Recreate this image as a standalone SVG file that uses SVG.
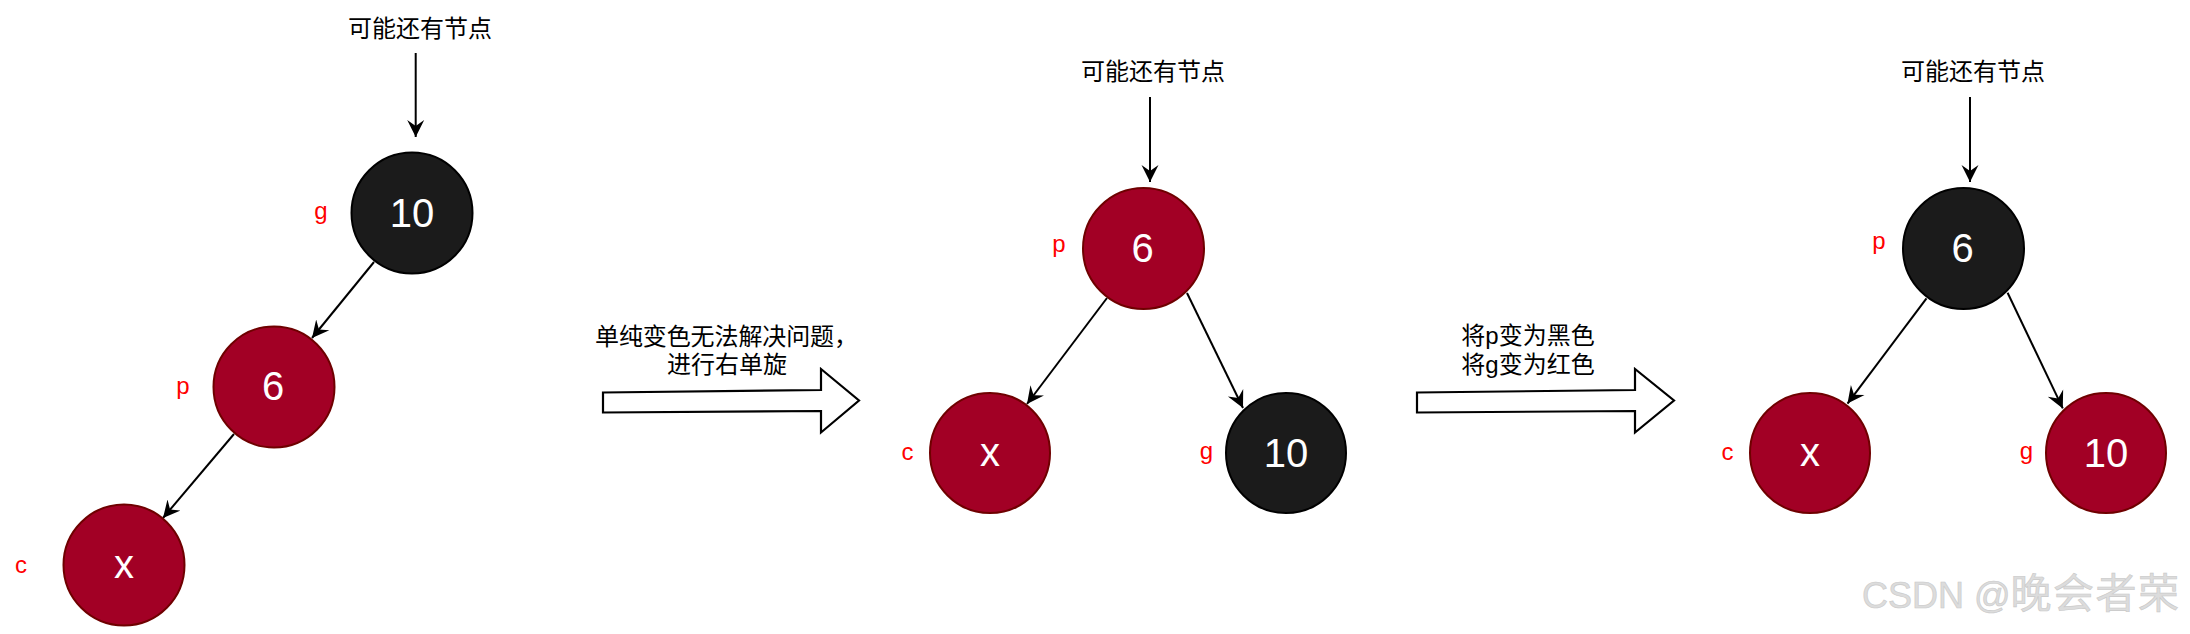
<svg xmlns="http://www.w3.org/2000/svg" width="2190" height="634" viewBox="0 0 2190 634">
<style>
  .red { fill: #A20025; stroke: #6F0000; stroke-width: 2; }
  .blk { fill: #1B1B1B; stroke: #000000; stroke-width: 2; }
  .val { font-family: "Liberation Sans", Arial, sans-serif; font-size: 40px; fill: #FFFFFF; text-anchor: middle; }
  .lbl { font-family: "Liberation Sans", Arial, sans-serif; font-size: 24px; fill: #FF0000; text-anchor: middle; }
  .cap { font-family: "Liberation Sans", "Noto Sans CJK SC", sans-serif; font-size: 24px; fill: #000000; }
  .mid { text-anchor: middle; }
  .edge { stroke: #000000; stroke-width: 2; fill: none; marker-end: url(#arr); }
  .block { fill: #FFFFFF; stroke: #000000; stroke-width: 2.2; stroke-linejoin: miter; }
  .wm { font-family: "Liberation Sans", "Noto Sans CJK SC", sans-serif; fill: #DCDCDC; stroke: #C9C9C9; stroke-width: 0.6; }
</style>
<defs>
  <marker id="arr" markerUnits="userSpaceOnUse" markerWidth="20" markerHeight="20" refX="17" refY="9" orient="auto">
    <path d="M17,9 L0,0.5 L6,9 L0,17.5 Z" fill="#000000"/>
  </marker>
</defs>
<rect width="2190" height="634" fill="#FFFFFF"/>

<g id="connectors">
  <line class="edge" x1="415.7" y1="53" x2="415.7" y2="137"/>
  <line class="edge" x1="374" y1="262" x2="312" y2="338"/>
  <line class="edge" x1="234" y1="434" x2="163" y2="518"/>
  <line class="edge" x1="1150" y1="97" x2="1150" y2="182"/>
  <line class="edge" x1="1107" y1="298" x2="1027" y2="404"/>
  <line class="edge" x1="1187" y1="293" x2="1243" y2="408"/>
  <line class="edge" x1="1970" y1="97" x2="1970" y2="182"/>
  <line class="edge" x1="1926.5" y1="298.4" x2="1847.5" y2="403.6"/>
  <line class="edge" x1="2007.6" y1="292.8" x2="2062.8" y2="408.4"/>
</g>

<!-- Tree 1 -->
<g id="t1-top"><text class="cap mid" x="420" y="37">可能还有节点</text></g>
<g id="t1-g"><circle class="blk" cx="412" cy="213" r="60.5"/><text class="val" x="412" y="227">10</text></g>
<g id="t1-g-label"><text class="lbl" x="321" y="219">g</text></g>
<g id="t1-p"><circle class="red" cx="274" cy="387" r="60.5"/><text class="val" x="273" y="400">6</text></g>
<g id="t1-p-label"><text class="lbl" x="183" y="394">p</text></g>
<g id="t1-c"><circle class="red" cx="124" cy="565" r="60.5"/><text class="val" x="124" y="578">x</text></g>
<g id="t1-c-label"><text class="lbl" x="21" y="573">c</text></g>

<!-- Block arrow 1 -->
<g id="step1">
  <polygon class="block" points="603,392.5 821,390 821,369 859,400.5 821,432.5 821,411 603,412.5"/>
  <text class="cap" x="595" y="345" textLength="263" lengthAdjust="spacing">单纯变色无法解决问题，</text>
  <text class="cap mid" x="727" y="373">进行右单旋</text>
</g>

<!-- Tree 2 -->
<g id="t2-top"><text class="cap mid" x="1153" y="80">可能还有节点</text></g>
<g id="t2-p"><circle class="red" cx="1143.5" cy="248.5" r="60.5"/><text class="val" x="1142.5" y="262">6</text></g>
<g id="t2-p-label"><text class="lbl" x="1059" y="252">p</text></g>
<g id="t2-c"><circle class="red" cx="990" cy="453" r="60"/><text class="val" x="990" y="466">x</text></g>
<g id="t2-c-label"><text class="lbl" x="907.5" y="460">c</text></g>
<g id="t2-g"><circle class="blk" cx="1286" cy="453" r="60"/><text class="val" x="1286" y="467">10</text></g>
<g id="t2-g-label"><text class="lbl" x="1206.5" y="459">g</text></g>

<!-- Block arrow 2 -->
<g id="step2">
  <polygon class="block" points="1417,392.5 1635,390 1635,369 1674,400.5 1635,432.5 1635,411 1417,412.5"/>
  <text class="cap mid" x="1528" y="344">将p变为黑色</text>
  <text class="cap mid" x="1528" y="373">将g变为红色</text>
</g>

<!-- Tree 3 -->
<g id="t3-top"><text class="cap mid" x="1973" y="80">可能还有节点</text></g>
<g id="t3-p"><circle class="blk" cx="1963.5" cy="248.5" r="60.5"/><text class="val" x="1962.5" y="262">6</text></g>
<g id="t3-p-label"><text class="lbl" x="1879" y="249">p</text></g>
<g id="t3-c"><circle class="red" cx="1810" cy="453" r="60"/><text class="val" x="1810" y="466">x</text></g>
<g id="t3-c-label"><text class="lbl" x="1727.5" y="460">c</text></g>
<g id="t3-g"><circle class="red" cx="2106" cy="453" r="60"/><text class="val" x="2106" y="467">10</text></g>
<g id="t3-g-label"><text class="lbl" x="2026.5" y="459">g</text></g>

<!-- Watermark -->
<g id="watermark">
  <text class="wm" x="1862" y="608"><tspan font-size="36">CSDN @</tspan><tspan font-size="41" letter-spacing="1.5">晚会者荣</tspan></text>
</g>
</svg>
